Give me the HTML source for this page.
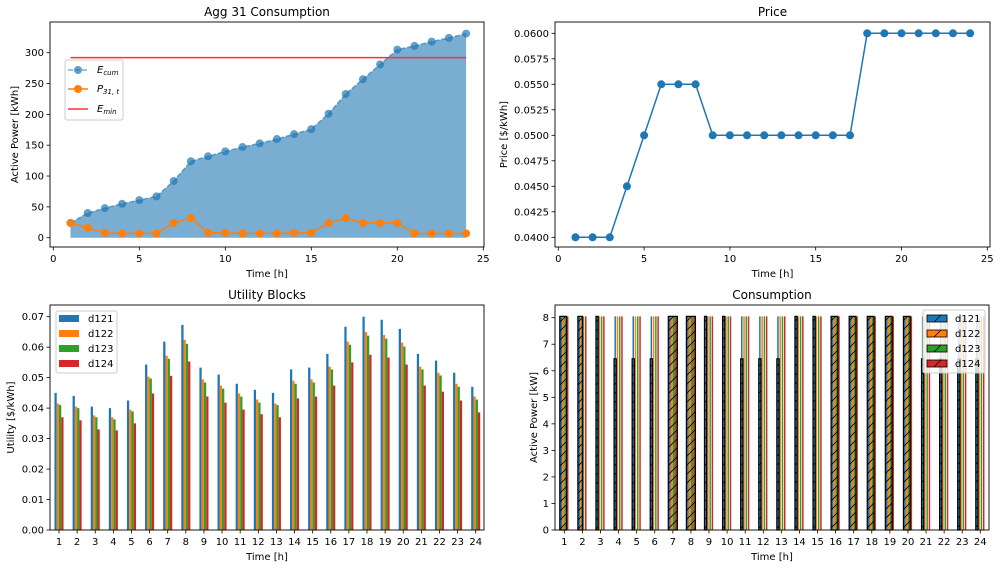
<!DOCTYPE html>
<html><head><meta charset="utf-8">
<style>
body{margin:0;background:#fff;}
svg{display:block;font-family:"DejaVu Sans","Liberation Sans",sans-serif;}
</style></head>
<body>
<svg id="c" width="1000" height="568" viewBox="0 0 1000 568">
<defs>
<pattern id="hatch" patternUnits="userSpaceOnUse" width="9" height="9">
<path d="M0,9 L9,0 M-1,1 L1,-1 M8,10 L10,8" stroke="#000" stroke-width="0.8"/>
</pattern>
</defs>
</svg>
<script>
// ---------- data ----------
const hours = [1,2,3,4,5,6,7,8,9,10,11,12,13,14,15,16,17,18,19,20,21,22,23,24];
const eCum = [24,40,48,55,61,67,92,124,132,140,147,153,160,168,176,201,233,257,281,305,311,318,324,331];
const pAgg = [24,16,8,7,7,7,24,32,8,8,7,7,7,8,8,24,32,24,24,24,7,7,7,7];
const eMin = 292;
const price = [0.04,0.04,0.04,0.045,0.05,0.055,0.055,0.055,0.05,0.05,0.05,0.05,0.05,0.05,0.05,0.05,0.05,0.06,0.06,0.06,0.06,0.06,0.06,0.06];
const devices = ['d121','d122','d123','d124'];
const u121 = [.045,.044,.0405,.040,.0425,.0543,.0618,.0673,.0533,.051,.048,.046,.045,.0527,.0533,.0578,.0667,.070,.069,.066,.0578,.0556,.0516,.047];
const u122 = [.0415,.0405,.0376,.037,.0395,.0503,.0572,.0624,.0494,.0474,.0448,.0428,.0415,.049,.0494,.0536,.0618,.0650,.0640,.0615,.0536,.0516,.048,.0438];
const u123 = [.041,.040,.037,.0363,.0389,.0497,.0562,.0611,.0484,.0464,.0438,.0418,.041,.048,.0484,.0527,.0608,.0638,.0628,.0602,.0527,.0507,.047,.0428];
const u124 = [.037,.036,.033,.0327,.035,.0448,.0506,.0553,.0438,.0418,.0395,.038,.037,.0432,.0438,.0474,.055,.0575,.0566,.0543,.0474,.0454,.0425,.0386];
const pDev = [8.05,8.05,8.05,8.05];
const boxN = [3,2,1,1,1,1,4,4,1,1,1,1,1,1,1,3,3,3,3,3,1,1,1,1];
const boxH = [8.05,8.05,8.05,6.45,6.45,6.45,8.05,8.05,8.05,8.05,6.45,6.45,6.45,8.05,8.05,8.05,8.05,8.05,8.05,8.05,6.45,6.45,6.45,6.45];
const xTicksLine = [0,5,10,15,20,25];
const yTicksAgg = [0,50,100,150,200,250,300];
const yTicksPrice = [0.04,0.0425,0.045,0.0475,0.05,0.0525,0.055,0.0575,0.06];
const yTicksUtil = [0,0.01,0.02,0.03,0.04,0.05,0.06,0.07];
const yTicksCons = [0,1,2,3,4,5,6,7,8];
const colors = ['#1f77b4','#ff7f0e','#2ca02c','#d62728'];

const svg = document.getElementById('c');
const NS = 'http://www.w3.org/2000/svg';
function el(tag, attrs, parent, text){
  const e = document.createElementNS(NS, tag);
  for (const k in attrs) e.setAttribute(k, attrs[k]);
  if (text !== undefined) e.textContent = text;
  (parent || svg).appendChild(e);
  return e;
}
function lin(d0,d1,p0,p1){ return v => p0 + (v-d0)*(p1-p0)/(d1-d0); }

function axesFrame(g, L,T,R,B, title, xlabel, ylabel, ylx){
  const f = el('rect',{x:L,y:T,width:R-L,height:B-T,fill:'none',stroke:'#000','stroke-width':0.9},g);
   
  const t = el('text',{x:(L+R)/2,y:T-6,'text-anchor':'middle','font-size':12},g,title);
   
  const xl = el('text',{x:(L+R)/2,y:B+30,'text-anchor':'middle','font-size':10},g,xlabel);
   
  const yl = el('text',{x:ylx,y:(T+B)/2,'text-anchor':'middle','font-size':10,transform:`rotate(-90 ${ylx} ${(T+B)/2})`},g,ylabel);
   
}
function xTick(g,x,B,label){
  el('line',{x1:x,x2:x,y1:B,y2:B+3.5,stroke:'#000','stroke-width':0.8},g);
  const t = el('text',{x:x,y:B+15,'text-anchor':'middle','font-size':10},g,label);
   
}
function yTick(g,y,L,label){
  el('line',{x1:L,x2:L-3.5,y1:y,y2:y,stroke:'#000','stroke-width':0.8},g);
  const t = el('text',{x:L-6,y:y+3.5,'text-anchor':'end','font-size':10},g,label);
   
}

// ---------- Chart 1: Agg consumption ----------
(function(){
  const g = el('g',{});
   
  const L=50,T=22,R=484,B=247;
  const X = lin(0,25,53.3,483.3), Y = lin(0,300,237.7,52.7);
  let area = `M${X(hours[0])},${Y(0)}`;
  hours.forEach((h,i)=> area += ` L${X(h)},${Y(eCum[i])}`);
  area += ` L${X(hours[hours.length-1])},${Y(0)} Z`;
  const a = el('path',{d:area,fill:'#1f77b4','fill-opacity':0.6,stroke:'none'},g);
   
  const lc = el('polyline',{points:hours.map((h,i)=>`${X(h)},${Y(eCum[i])}`).join(' '),fill:'none',stroke:'#1f77b4','stroke-opacity':0.6,'stroke-width':1.5,'stroke-dasharray':'5,2'},g);
   
  hours.forEach((h,i)=>{
    const c = el('circle',{cx:X(h),cy:Y(eCum[i]),r:4,fill:'#1f77b4','fill-opacity':0.7},g);
     
  });
  const m = el('line',{x1:X(1),x2:X(24),y1:Y(eMin),y2:Y(eMin),stroke:'#ff3030','stroke-width':1.6},g);
   
  const lp = el('polyline',{points:hours.map((h,i)=>`${X(h)},${Y(pAgg[i])}`).join(' '),fill:'none',stroke:'#ff7f0e','stroke-width':1.5},g);
   
  hours.forEach((h,i)=>{
    const c = el('circle',{cx:X(h),cy:Y(pAgg[i]),r:4,fill:'#ff7f0e'},g);
     
  });
  axesFrame(g,L,T,R,B,'Agg 31 Consumption','Time [h]','Active Power [kWh]',18);
  xTicksLine.forEach(v=>xTick(g,X(v),B,String(v)));
  yTicksAgg.forEach(v=>yTick(g,Y(v),L,String(v)));
  // legend
  const lg = el('g',{},g);
   
  el('rect',{x:65,y:60,width:58,height:60,rx:2,fill:'#fff','fill-opacity':0.8,stroke:'#ccc'},lg);
  el('line',{x1:68,x2:88,y1:70,y2:70,stroke:'#1f77b4','stroke-opacity':0.6,'stroke-width':1.5,'stroke-dasharray':'5,2'},lg);
  el('circle',{cx:78,cy:70,r:4,fill:'#1f77b4','fill-opacity':0.7},lg);
  const t1 = el('text',{x:97,y:73,'font-size':10,'font-style':'italic'},lg);
  t1.innerHTML = 'E<tspan font-size="7" dy="2">cum</tspan>';
  el('line',{x1:68,x2:88,y1:89,y2:89,stroke:'#ff7f0e','stroke-width':1.5},lg);
  el('circle',{cx:78,cy:89,r:4,fill:'#ff7f0e'},lg);
  const t2 = el('text',{x:97,y:92,'font-size':10,'font-style':'italic'},lg);
  t2.innerHTML = 'P<tspan font-size="7" dy="2">31, t</tspan>';
  el('line',{x1:68,x2:88,y1:109,y2:109,stroke:'#ff3030','stroke-width':1.6},lg);
  const t3 = el('text',{x:97,y:112,'font-size':10,'font-style':'italic'},lg);
  t3.innerHTML = 'E<tspan font-size="7" dy="2">min</tspan>';
})();
// ---------- Chart 2: Price ----------
(function(){
  const g = el('g',{});
   
  const L=555,T=22,R=990,B=247;
  const X = lin(0,25,558.3,987.3), Y = lin(0.04,0.06,237.3,33.3);
  const lp = el('polyline',{points:hours.map((h,i)=>`${X(h)},${Y(price[i])}`).join(' '),fill:'none',stroke:'#1f77b4','stroke-width':1.5},g);
   
  hours.forEach((h,i)=>{
    const c = el('circle',{cx:X(h),cy:Y(price[i]),r:4,fill:'#1f77b4'},g);
     
  });
  axesFrame(g,L,T,R,B,'Price','Time [h]','Price [$/kWh]',507);
  xTicksLine.forEach(v=>xTick(g,X(v),B,String(v)));
  yTicksPrice.forEach(v=>yTick(g,Y(v),L,v.toFixed(4)));
})();
// ---------- Chart 3: Utility blocks ----------
(function(){
  const g = el('g',{});
   
  const L=50,T=305,R=484,B=530;
  const X = lin(1,24,59,475.7), Y = lin(0,0.07,530,316.7);
  const step = X(2)-X(1), bw = step*0.125;
  const series = [u121,u122,u123,u124];
  series.forEach((s,k)=>{
    s.forEach((v,i)=>{
      const cx = X(hours[i]) + (-0.1875+0.125*k)*step;
      const r = el('rect',{x:cx-bw/2,y:Y(v),width:bw,height:Y(0)-Y(v),fill:colors[k]},g);
       
    });
  });
  axesFrame(g,L,T,R,B,'Utility Blocks','Time [h]','Utility [$/kWh]',14);
  hours.forEach(h=>xTick(g,X(h),B,String(h)));
  yTicksUtil.forEach(v=>yTick(g,Y(v),L,v.toFixed(2)));
  const lg = el('g',{},g);
   
  el('rect',{x:56,y:311,width:61,height:62,rx:2,fill:'#fff','fill-opacity':0.8,stroke:'#ccc'},lg);
  devices.forEach((d,k)=>{
    el('rect',{x:59,y:315+k*15,width:20,height:7,fill:colors[k]},lg);
    const t = el('text',{x:88,y:322+k*15,'font-size':10},lg,d);
     
  });
})();
// ---------- Chart 4: Consumption ----------
(function(){
  const g = el('g',{});
   
  const L=555,T=305,R=989,B=530;
  const X = lin(1,24,564.3,980.3), Y = lin(0,8,530,317.7);
  const step = X(2)-X(1), bw = step*0.125;
  hours.forEach((h,i)=>{
    const x0 = X(h) - 0.25*step;
    devices.forEach((d,k)=>{
      const cx = X(h) + (-0.1875+0.125*k)*step;
      const r = el('rect',{x:cx-0.75,y:Y(pDev[k]),width:1.5,height:Y(0)-Y(pDev[k]),fill:colors[k]},g);
       
    });
    const n = boxN[i];
    for(let k=0;k<n;k++){
      const f = el('rect',{x:x0+k*bw,y:Y(boxH[i]),width:bw,height:Y(0)-Y(boxH[i]),fill:colors[k]},g);
       
    }
    const bx = el('rect',{x:x0,y:Y(boxH[i]),width:n*bw,height:Y(0)-Y(boxH[i]),fill:'url(#hatch)',stroke:'#000','stroke-width':1.2},g);
     
  });
  axesFrame(g,L,T,R,B,'Consumption','Time [h]','Active Power [kW]',537);
  hours.forEach(h=>xTick(g,X(h),B,String(h)));
  yTicksCons.forEach(v=>yTick(g,Y(v),L,String(v)));
  const lg = el('g',{},g);
   
  el('rect',{x:923,y:310,width:62,height:63,rx:2,fill:'#fff','fill-opacity':0.8,stroke:'#ccc'},lg);
  devices.forEach((d,k)=>{
    el('rect',{x:927,y:315+k*15,width:20,height:7,fill:colors[k],stroke:'#000','stroke-width':0.8},lg);
    el('line',{x1:934,y1:322+k*15,x2:941,y2:315+k*15,stroke:'#000','stroke-width':0.8},lg);
    const t = el('text',{x:955,y:322+k*15,'font-size':10},lg,d);
     
  });
})();
</script>
</body></html>
